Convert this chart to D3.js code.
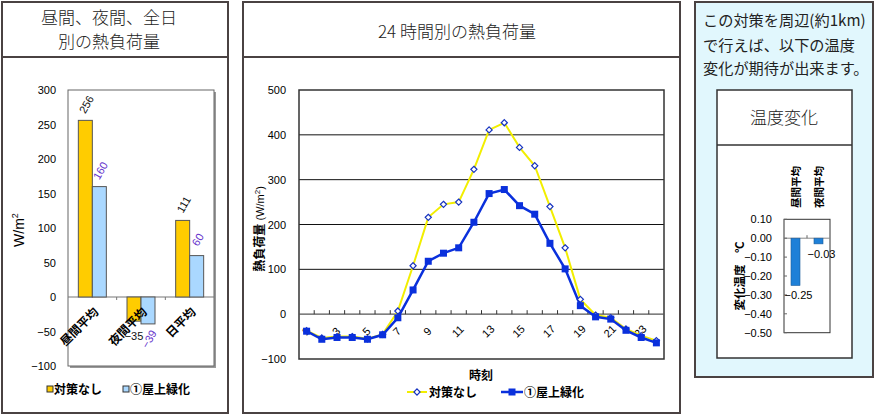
<!DOCTYPE html>
<html>
<head>
<meta charset="utf-8">
<script src="https://cdn.jsdelivr.net/npm/d3@7"></script>
<style>
body { margin: 0; background: #fff; }
svg text { font-family: "Liberation Sans", "Noto Sans CJK JP", sans-serif; }
.ttl { font-family: "Noto Sans CJK JP", sans-serif !important; font-weight: 300; fill: #222; }
</style>
</head>
<body>
<svg id="main_svg" width="876" height="416"></svg>
<script>
// left chart: daytime / night / whole day
let dayCats = ["昼間平均", "夜間平均", "日平均"];
let dayNone = [256, -35, 111];
let dayRoof = [160, -39, 60];
let dayTicks = [300, 250, 200, 150, 100, 50, 0, -50, -100];

// middle chart: hourly
let hours = [1, 2, 3, 4, 5, 6, 7, 8, 9, 10, 11, 12, 13, 14, 15, 16, 17, 18, 19, 20, 21, 22, 23, 24];
let hourLabels = [1, 3, 5, 7, 9, 11, 13, 15, 17, 19, 21, 23];
let hourNone = [-37, -53, -50, -50, -55, -45, 7, 108, 216, 245, 250, 323, 411, 427, 372, 331, 240, 148, 33, -2, -8, -33, -48, -59];
let hourRoof = [-38, -56, -52, -52, -56, -46, -8, 54, 118, 136, 148, 205, 269, 278, 242, 223, 158, 101, 19, -6, -11, -36, -52, -64];
let hourTicks = [500, 400, 300, 200, 100, 0, -100];

// right chart: temperature change
let tempCats = ["昼間平均", "夜間平均"];
let tempChange = [-0.25, -0.03];
let tempTicks = [0.1, 0, -0.1, -0.2, -0.3, -0.4, -0.5];

let seriesNames = ["対策なし", "①屋上緑化"];

let svg = d3.select("#main_svg");
let frame = "#4a4242";

function panels() {
    svg.append("rect").attr("x", 2).attr("y", 2).attr("width", 226).attr("height", 411)
       .attr("fill", "#fff").attr("stroke", frame).attr("stroke-width", 2);
    svg.append("line").attr("x1", 2).attr("x2", 228).attr("y1", 57).attr("y2", 57)
       .attr("stroke", frame).attr("stroke-width", 2);
    svg.append("rect").attr("x", 243).attr("y", 2).attr("width", 437).attr("height", 411)
       .attr("fill", "#fff").attr("stroke", frame).attr("stroke-width", 2);
    svg.append("line").attr("x1", 243).attr("x2", 680).attr("y1", 57).attr("y2", 57)
       .attr("stroke", frame).attr("stroke-width", 2);
    svg.append("rect").attr("x", 695).attr("y", 2).attr("width", 178).attr("height", 375)
       .attr("fill", "#e1f7fd").attr("stroke", frame).attr("stroke-width", 2);
    svg.append("rect").attr("x", 717).attr("y", 90).attr("width", 135).attr("height", 268)
       .attr("fill", "#fff").attr("stroke", "#333").attr("stroke-width", 1.5);
    svg.append("line").attr("x1", 717).attr("x2", 852).attr("y1", 145).attr("y2", 145)
       .attr("stroke", "#333").attr("stroke-width", 1.5);

    svg.append("text").attr("class", "ttl").attr("x", 109).attr("y", 24)
       .attr("text-anchor", "middle").style("font-size", "17px").text("昼間、夜間、全日");
    svg.append("text").attr("class", "ttl").attr("x", 109).attr("y", 48)
       .attr("text-anchor", "middle").style("font-size", "17px").text("別の熱負荷量");
    svg.append("text").attr("class", "ttl").attr("x", 457).attr("y", 38)
       .attr("text-anchor", "middle").style("font-size", "17px").text("24 時間別の熱負荷量");

    let lines = ["この対策を周辺(約1km)", "で行えば、以下の温度", "変化が期待が出来ます。"];
    let base = [25.5, 50.5, 74];
    for(let i = 0; i < lines.length; i++) {
        svg.append("text").attr("class", "ttl").attr("x", 703).attr("y", base[i])
           .style("font-size", "15.2px").style("font-weight", 400).text(lines[i]);
    }
    svg.append("text").attr("class", "ttl").attr("x", 784).attr("y", 124)
       .attr("text-anchor", "middle").style("font-size", "17px").text("温度変化");
}

function dayChart() {
    let y = d3.scaleLinear().domain([-100, 300]).range([366, 90]);
    let x = d3.scaleBand().domain(dayCats).range([68, 214]);
    let x1 = d3.scaleBand().domain([0, 1]).range([0, 28]);
    let g = svg.append("g");

    // shadowed plot frame
    g.append("rect").attr("x", 70).attr("y", 92).attr("width", 146).attr("height", 276).attr("fill", "#999");
    g.append("rect").attr("x", 68).attr("y", 90).attr("width", 146).attr("height", 276)
     .attr("fill", "#fff").attr("stroke", "#666").attr("stroke-width", 1);

    g.selectAll(".yl").data(dayTicks).enter().append("text")
     .attr("x", 56).attr("y", d => y(d) + 4).attr("text-anchor", "end")
     .style("font-size", "11px").text(d => d < 0 ? "\u2212" + (-d) : d);

    g.append("line").attr("x1", 68).attr("x2", 214).attr("y1", y(0)).attr("y2", y(0))
     .attr("stroke", "#777").attr("stroke-width", 1.2);
    g.selectAll(".xt").data(dayCats.slice(1)).enter().append("line")
     .attr("x1", d => x(d)).attr("x2", d => x(d)).attr("y1", y(0)).attr("y2", y(0) + 3)
     .attr("stroke", "#777");

    let sets = [dayNone, dayRoof];
    let fills = ["#ffcc00", "#aad8ff"];
    let labelColor = ["#111", "#6633cc"];
    for(let s = 0; s < 2; s++) {
        g.selectAll(".b" + s).data(dayCats).enter().append("rect")
         .attr("x", d => x(d) + (x.bandwidth() - 28) / 2 + x1(s))
         .attr("width", x1.bandwidth())
         .attr("y", (d, i) => y(Math.max(0, sets[s][i])))
         .attr("height", (d, i) => Math.abs(y(sets[s][i]) - y(0)))
         .attr("fill", fills[s]).attr("stroke", "#555").attr("stroke-width", 1);
    }

    g.selectAll(".cl").data(dayCats).enter().append("text")
     .attr("transform", d => "translate(" + (x(d) + x.bandwidth() / 2 + 4) + "," + (y(0) + 13) + ") rotate(-45)")
     .attr("text-anchor", "end").attr("dominant-baseline", "central")
     .style("font-size", "12px").style("font-weight", "bold").text(d => d);

    for(let s = 0; s < 2; s++) {
        dayCats.forEach(function (d, i) {
            let v = sets[s][i];
            let cx = x(d) + (x.bandwidth() - 28) / 2 + x1(s) + x1.bandwidth() / 2;
            let cy = v >= 0 ? y(v) - 16 : y(v) + 15;
            let t = g.append("text").attr("text-anchor", "middle").attr("dominant-baseline", "central")
                     .style("font-size", "11px").attr("fill", labelColor[s])
                     .text(v < 0 ? "\u2212" + (-v) : v);
            if(v < 0 && s === 0) {
                t.attr("x", cx).attr("y", cy);
            } else {
                t.attr("transform", "translate(" + (cx + 1) + "," + cy + ") rotate(-60)");
            }
        });
    }

    g.append("text").attr("transform", "translate(24,230) rotate(-90)").attr("text-anchor", "middle")
     .style("font-size", "14px").html("W/m<tspan dy='-6' font-size='9px'>2</tspan>");

    // legend
    let lx = [47, 123];
    for(let s = 0; s < 2; s++) {
        g.append("rect").attr("x", lx[s]).attr("y", 386).attr("width", 6).attr("height", 6)
         .attr("fill", fills[s]).attr("stroke", "#333").attr("stroke-width", 1);
        g.append("text").attr("x", lx[s] + 7).attr("y", 394).style("font-size", "12px")
         .style("font-weight", "bold").text(seriesNames[s]);
    }
}

function hourChart() {
    let y = d3.scaleLinear().domain([-100, 500]).range([359, 90]);
    let x = d3.scaleBand().domain(hours).range([299, 664]);
    let cx = d => x(d) + x.bandwidth() / 2;
    let g = svg.append("g");

    g.selectAll(".grid").data([100, 200, 300, 400]).enter().append("line")
     .attr("x1", 299).attr("x2", 664).attr("y1", d => y(d)).attr("y2", d => y(d))
     .attr("stroke", "#111").attr("stroke-width", 1);
    g.append("rect").attr("x", 299).attr("y", 90).attr("width", 365).attr("height", 269)
     .attr("fill", "none").attr("stroke", "#333").attr("stroke-width", 1.5);
    g.append("line").attr("x1", 299).attr("x2", 664).attr("y1", y(0)).attr("y2", y(0))
     .attr("stroke", "#555").attr("stroke-width", 1.2);
    g.selectAll(".xt").data(hours.slice(1)).enter().append("line")
     .attr("x1", d => x(d)).attr("x2", d => x(d)).attr("y1", y(0)).attr("y2", y(0) - 4)
     .attr("stroke", "#333");

    g.selectAll(".yl").data(hourTicks).enter().append("text")
     .attr("x", 286).attr("y", d => y(d) + 4).attr("text-anchor", "end")
     .style("font-size", "11px").text(d => d < 0 ? "\u2212" + (-d) : d);

    g.selectAll(".xl").data(hourLabels).enter().append("text")
     .attr("transform", d => "translate(" + (cx(d) - 1) + "," + (y(0) + 17) + ") rotate(-45)")
     .attr("text-anchor", "middle").attr("dominant-baseline", "central")
     .style("font-size", "11px").text(d => d);

    let line = d3.line().x((d, i) => cx(hours[i])).y(d => y(d));
    g.append("path").attr("d", line(hourNone)).attr("fill", "none")
     .attr("stroke", "#f2ee00").attr("stroke-width", 2);
    g.append("path").attr("d", line(hourRoof)).attr("fill", "none")
     .attr("stroke", "#0a30dc").attr("stroke-width", 2.5);

    let diamond = d3.symbol().type(d3.symbolDiamond2).size(24);
    g.selectAll(".dm").data(hourNone).enter().append("path")
     .attr("d", diamond).attr("transform", (d, i) => "translate(" + cx(hours[i]) + "," + y(d) + ")")
     .attr("fill", "#fff").attr("stroke", "#1633c0").attr("stroke-width", 1.2);
    g.selectAll(".sq").data(hourRoof).enter().append("rect")
     .attr("x", (d, i) => cx(hours[i]) - 3.5).attr("y", d => y(d) - 3.5)
     .attr("width", 7).attr("height", 7).attr("fill", "#0a30dc");

    g.append("text").attr("transform", "translate(264,229) rotate(-90)").attr("text-anchor", "middle")
     .style("font-size", "12px").style("font-weight", "bold")
     .html("熱負荷量 <tspan font-weight='normal' font-size='11px'> (W/m<tspan dy='-4' font-size='8px'>2</tspan><tspan dy='4'>)</tspan></tspan>");
    g.append("text").attr("x", 481).attr("y", 380).attr("text-anchor", "middle")
     .style("font-size", "12px").style("font-weight", "bold").text("時刻");

    // legend
    g.append("line").attr("x1", 407).attr("x2", 427).attr("y1", 392).attr("y2", 392)
     .attr("stroke", "#f2ee00").attr("stroke-width", 2);
    g.append("path").attr("d", diamond).attr("transform", "translate(417,392)")
     .attr("fill", "#fff").attr("stroke", "#1633c0").attr("stroke-width", 1.2);
    g.append("text").attr("x", 429).attr("y", 397).style("font-size", "12px")
     .style("font-weight", "bold").text(seriesNames[0]);
    g.append("line").attr("x1", 501).attr("x2", 523).attr("y1", 392).attr("y2", 392)
     .attr("stroke", "#0a30dc").attr("stroke-width", 2.5);
    g.append("rect").attr("x", 508.5).attr("y", 388.5).attr("width", 7).attr("height", 7).attr("fill", "#0a30dc");
    g.append("text").attr("x", 524).attr("y", 397).style("font-size", "12px")
     .style("font-weight", "bold").text(seriesNames[1]);
}

function tempChart() {
    let y = d3.scaleLinear().domain([-0.5, 0.1]).range([332.7, 219.3]);
    let x = d3.scaleBand().domain(tempCats).range([784, 830]);
    let g = svg.append("g");

    g.append("rect").attr("x", 784).attr("y", 219.3).attr("width", 46).attr("height", 113.4)
     .attr("fill", "#fff").attr("stroke", "#333").attr("stroke-width", 1);
    g.append("line").attr("x1", 784).attr("x2", 830).attr("y1", y(0)).attr("y2", y(0))
     .attr("stroke", "#888").attr("stroke-width", 1);
    g.append("line").attr("x1", x(tempCats[1])).attr("x2", x(tempCats[1]))
     .attr("y1", y(0)).attr("y2", y(0) - 3).attr("stroke", "#666");
    g.selectAll(".yt").data(tempTicks).enter().append("line")
     .attr("x1", 784).attr("x2", 787).attr("y1", d => y(d)).attr("y2", d => y(d)).attr("stroke", "#666");

    g.selectAll(".yl").data(tempTicks).enter().append("text")
     .attr("x", 772).attr("y", d => y(d) + 4).attr("text-anchor", "end")
     .style("font-size", "11px").text(d => (d < 0 ? "\u2212" : "") + Math.abs(d).toFixed(2));

    g.selectAll(".bar").data(tempChange).enter().append("rect")
     .attr("x", (d, i) => x(tempCats[i]) + x.bandwidth() / 2 - 4.5).attr("width", 9)
     .attr("y", y(0)).attr("height", d => y(d) - y(0))
     .attr("fill", "#1e80d8").attr("stroke", "#1a5a9a").attr("stroke-width", 0.6);
    g.selectAll(".vl").data(tempChange).enter().append("text")
     .attr("x", (d, i) => x(tempCats[i]) + x.bandwidth() / 2 + 3).attr("y", d => y(d) + 14)
     .attr("text-anchor", "middle").style("font-size", "11px")
     .text(d => "\u2212" + Math.abs(d).toFixed(2));

    g.selectAll(".cl").data(tempCats).enter().append("text")
     .attr("transform", d => "translate(" + (x(d) + x.bandwidth() / 2 + 4) + ",208) rotate(-90)")
     .style("font-size", "10.5px").style("font-weight", "bold").text(d => d);

    g.append("text").attr("transform", "translate(744,276) rotate(-90)").attr("text-anchor", "middle")
     .style("font-size", "11.5px").style("font-weight", "bold").text("変化温度　℃");
}

panels();
dayChart();
hourChart();
tempChart();
</script>
</body>
</html>
